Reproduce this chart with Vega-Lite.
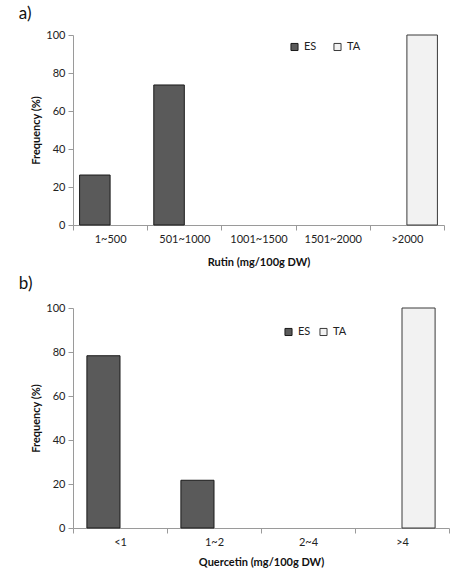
{
  "$schema": "https://vega.github.io/schema/vega-lite/v6.json",
  "background": "white",
  "padding": {"left": 18, "top": 5, "right": 10, "bottom": 10},
  "config": {
    "font": "Lato",
    "view": {"stroke": null},
    "axis": {
      "domainColor": "#9a9a9a",
      "tickColor": "#9a9a9a",
      "labelColor": "#222222",
      "labelFontSize": 11,
      "titleFontSize": 11,
      "titleFontWeight": "bold",
      "titleColor": "#111111",
      "grid": false,
      "tickSize": 5,
      "labelPadding": 3
    },
    "title": {"fontSize": 17, "fontWeight": "normal", "anchor": "start", "color": "#111111", "frame": "bounds"},
    "legend": {
      "orient": "none",
      "direction": "horizontal",
      "title": null,
      "symbolType": "square",
      "symbolSize": 50,
      "symbolStrokeColor": "#222222",
      "symbolStrokeWidth": 1,
      "labelFontSize": 11,
      "labelColor": "#222222",
      "labelOffset": 4
    },
    "concat": {"spacing": 8}
  },
  "datasets": {
    "rutin": [
      {"range": "1~500", "group": "ES", "frequency": 26.3},
      {"range": "501~1000", "group": "ES", "frequency": 73.7},
      {"range": ">2000", "group": "TA", "frequency": 100}
    ],
    "quercetin": [
      {"range": "<1", "group": "ES", "frequency": 78.3},
      {"range": "1~2", "group": "ES", "frequency": 21.7},
      {"range": ">4", "group": "TA", "frequency": 100}
    ]
  },
  "vconcat": [
    {
      "title": {"text": "a)", "dx": -12, "offset": 6},
      "width": 371,
      "height": 190,
      "data": {"name": "rutin"},
      "mark": {"type": "bar", "strokeWidth": 1},
      "encoding": {
        "x": {
          "field": "range",
          "type": "nominal",
          "sort": null,
          "scale": {"domain": ["1~500", "501~1000", "1001~1500", "1501~2000", ">2000"], "paddingInner": 0, "paddingOuter": 0},
          "axis": {"labelAngle": 0, "tickBand": "extent", "title": "Rutin (mg/100g DW)", "titlePadding": 12}
        },
        "xOffset": {"field": "group", "scale": {"domain": ["ES", "TA"], "paddingInner": 0, "paddingOuter": 0.216}},
        "y": {
          "field": "frequency",
          "type": "quantitative",
          "scale": {"domain": [0, 100]},
          "axis": {"values": [0, 20, 40, 60, 80, 100], "title": "Frequency (%)", "titlePadding": 4}
        },
        "fill": {
          "field": "group",
          "type": "nominal",
          "scale": {"domain": ["ES", "TA"], "range": ["#5a5a5a", "#f2f2f2"]},
          "legend": {"legendX": 216, "legendY": 6, "columnPadding": 14}
        },
        "stroke": {
          "field": "group",
          "type": "nominal",
          "scale": {"domain": ["ES", "TA"], "range": ["#1a1a1a", "#3a3a3a"]},
          "legend": null
        }
      }
    },
    {
      "title": {"text": "b)", "dx": -12, "offset": 9},
      "width": 376,
      "height": 220,
      "data": {"name": "quercetin"},
      "mark": {"type": "bar", "strokeWidth": 1},
      "encoding": {
        "x": {
          "field": "range",
          "type": "nominal",
          "sort": null,
          "scale": {"domain": ["<1", "1~2", "2~4", ">4"], "paddingInner": 0, "paddingOuter": 0},
          "axis": {"labelAngle": 0, "tickBand": "extent", "title": "Quercetin (mg/100g DW)", "titlePadding": 9}
        },
        "xOffset": {"field": "group", "scale": {"domain": ["ES", "TA"], "paddingInner": 0, "paddingOuter": 0.42}},
        "y": {
          "field": "frequency",
          "type": "quantitative",
          "scale": {"domain": [0, 100]},
          "axis": {"values": [0, 20, 40, 60, 80, 100], "title": "Frequency (%)", "titlePadding": 4}
        },
        "fill": {
          "field": "group",
          "type": "nominal",
          "scale": {"domain": ["ES", "TA"], "range": ["#5a5a5a", "#f2f2f2"]},
          "legend": {"legendX": 210, "legendY": 18, "columnPadding": 6}
        },
        "stroke": {
          "field": "group",
          "type": "nominal",
          "scale": {"domain": ["ES", "TA"], "range": ["#1a1a1a", "#3a3a3a"]},
          "legend": null
        }
      }
    }
  ],
  "resolve": {"scale": {"x": "independent", "xOffset": "independent", "fill": "independent", "stroke": "independent"}, "legend": {"fill": "independent"}}
}
